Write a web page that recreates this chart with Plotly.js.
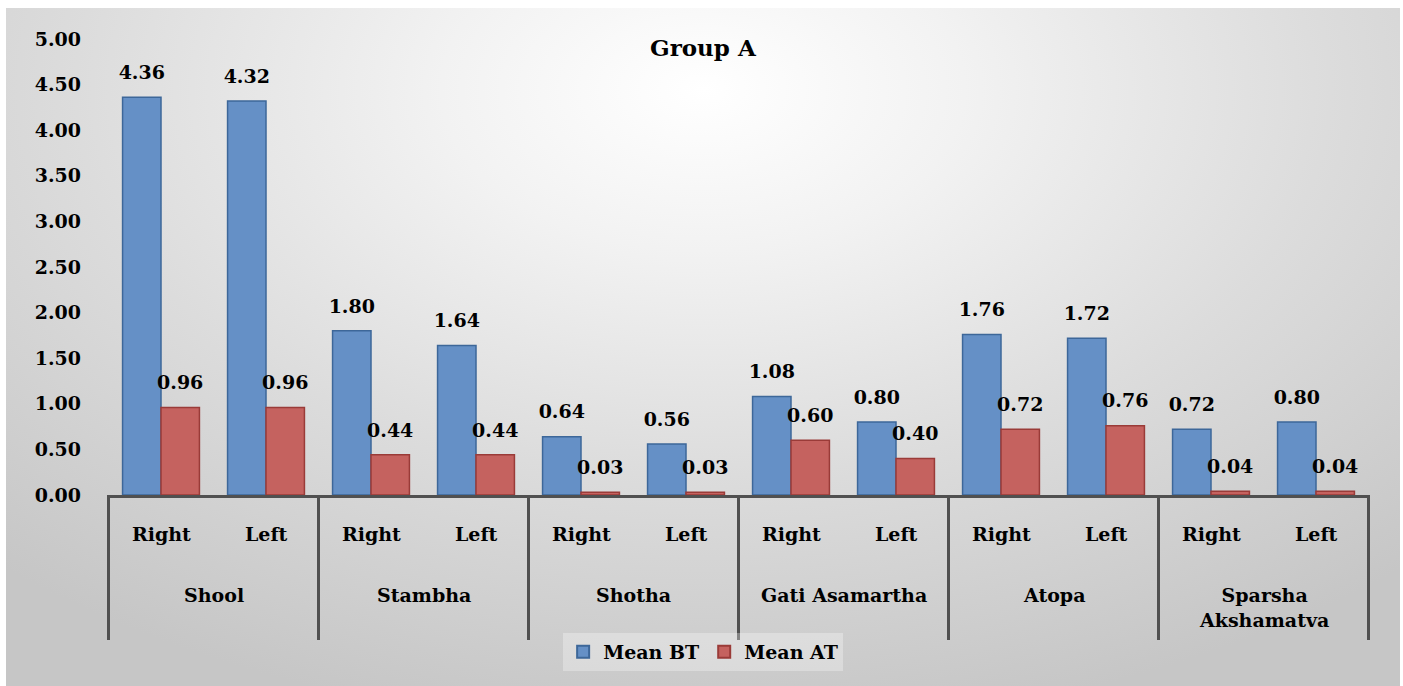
<!DOCTYPE html>
<html>
<head>
<meta charset="utf-8">
<script src="https://cdn.plot.ly/plotly-3.0.1.min.js"></script>
<style>
  html, body { margin: 0; padding: 0; background: #ffffff; }
  #bg {
    position: absolute; left: 6px; top: 8px; width: 1394px; height: 678px;
    background: radial-gradient(ellipse 75% 95% at 50% 12%, #ffffff 0%, #f2f2f2 25%, #dcdcdc 60%, #c6c6c6 100%);
  }
  #chart { position: absolute; left: 0; top: 0; width: 1403px; height: 686px; }
</style>
</head>
<body>
<div id="bg"></div>
<div id="chart"></div>
<script>
const groups = ['Shool', 'Stambha', 'Shotha', 'Gati Asamartha', 'Atopa', 'Sparsha<br>Akshamatva'];
const sides = ['Right', 'Left'];
const meanBT = [4.36, 4.32, 1.80, 1.64, 0.64, 0.56, 1.08, 0.80, 1.76, 1.72, 0.72, 0.80];
const meanAT = [0.96, 0.96, 0.44, 0.44, 0.03, 0.03, 0.60, 0.40, 0.72, 0.76, 0.04, 0.04];
const seriesNames = ['Mean BT', 'Mean AT'];
const yTicks = [0, 0.5, 1, 1.5, 2, 2.5, 3, 3.5, 4, 4.5, 5];

const groupCol = [];
const sideCol = [];
groups.forEach(g => sides.forEach(s => { groupCol.push(g); sideCol.push(s); }));

const FONT = 'DejaVu Serif';
const txt = { family: FONT, size: 19, color: '#000000', weight: 'bold' };
const GAP = 0.268;

function barTrace(name, vals, fill, line) {
  return {
    type: 'bar',
    name: name,
    x: [groupCol, sideCol],
    y: vals,
    marker: { color: fill, line: { color: line, width: 1.5 } },
    hoverinfo: 'skip'
  };
}
function labelTrace(vals) {
  return {
    type: 'scatter',
    mode: 'markers+text',
    x: [groupCol, sideCol],
    y: vals,
    texttemplate: '%{y:.2f}',
    textposition: 'top center',
    textfont: txt,
    marker: { size: 20, color: 'rgba(0,0,0,0)' },
    cliponaxis: false,
    showlegend: false,
    hoverinfo: 'skip'
  };
}

const data = [
  barTrace(seriesNames[0], meanBT, '#6590C6', '#3D6799'),
  barTrace(seriesNames[1], meanAT, '#C5625F', '#9A3B38'),
  labelTrace(meanBT),
  labelTrace(meanAT)
];

// category-axis labels and dividers (placed on the category index scale)
const annotations = [];
const shapes = [];
sideCol.forEach((s, i) => {
  annotations.push({ x: i, xref: 'x', y: -0.0855, yref: 'paper', text: s,
    showarrow: false, font: txt, xanchor: 'center', yanchor: 'middle' });
});
groups.forEach((g, gi) => {
  annotations.push({ x: gi * sides.length + (sides.length - 1) / 2, xref: 'x', y: -0.19, yref: 'paper',
    text: g, showarrow: false, font: txt, xanchor: 'center', yanchor: 'top' });
});
for (let gi = 0; gi <= groups.length; gi++) {
  const xv = gi * sides.length - 0.5;
  shapes.push({ type: 'line', xref: 'x', yref: 'paper', x0: xv, x1: xv, y0: 0, y1: -0.318,
    line: { color: '#505050', width: 3 }, layer: 'above' });
}

const layout = {
  width: 1403,
  height: 686,
  margin: { l: 107, r: 33, t: 39, b: 191 },
  paper_bgcolor: 'rgba(0,0,0,0)',
  plot_bgcolor: 'rgba(0,0,0,0)',
  font: txt,
  title: {
    text: 'Group A',
    font: { family: FONT, size: 23, color: '#000000', weight: 'bold' },
    x: 0.501, xanchor: 'center', xref: 'container',
    y: 0.93, yanchor: 'middle', yref: 'container'
  },
  barmode: 'group',
  bargap: GAP,
  bargroupgap: 0,
  scattermode: 'group',
  scattergap: GAP,
  showlegend: true,
  legend: {
    orientation: 'h',
    x: 0.472, xanchor: 'center', xref: 'paper',
    y: -0.344, yanchor: 'middle', yref: 'paper',
    bgcolor: 'rgba(255,255,255,0.3)',
    font: txt,
    itemsizing: 'constant'
  },
  xaxis: {
    type: 'multicategory',
    showline: true, linecolor: '#505050', linewidth: 3,
    showgrid: false, zeroline: false,
    ticks: '',
    showticklabels: false,
    showdividers: false
  },
  yaxis: {
    range: [0, 5],
    tickvals: yTicks,
    tickformat: '.2f',
    showgrid: false, zeroline: false, showline: false,
    ticks: '',
    ticklabelstandoff: 25,
    tickfont: txt
  },
  annotations: annotations,
  shapes: shapes
};

Plotly.newPlot('chart', data, layout, { displayModeBar: false, staticPlot: true });
</script>
</body>
</html>
